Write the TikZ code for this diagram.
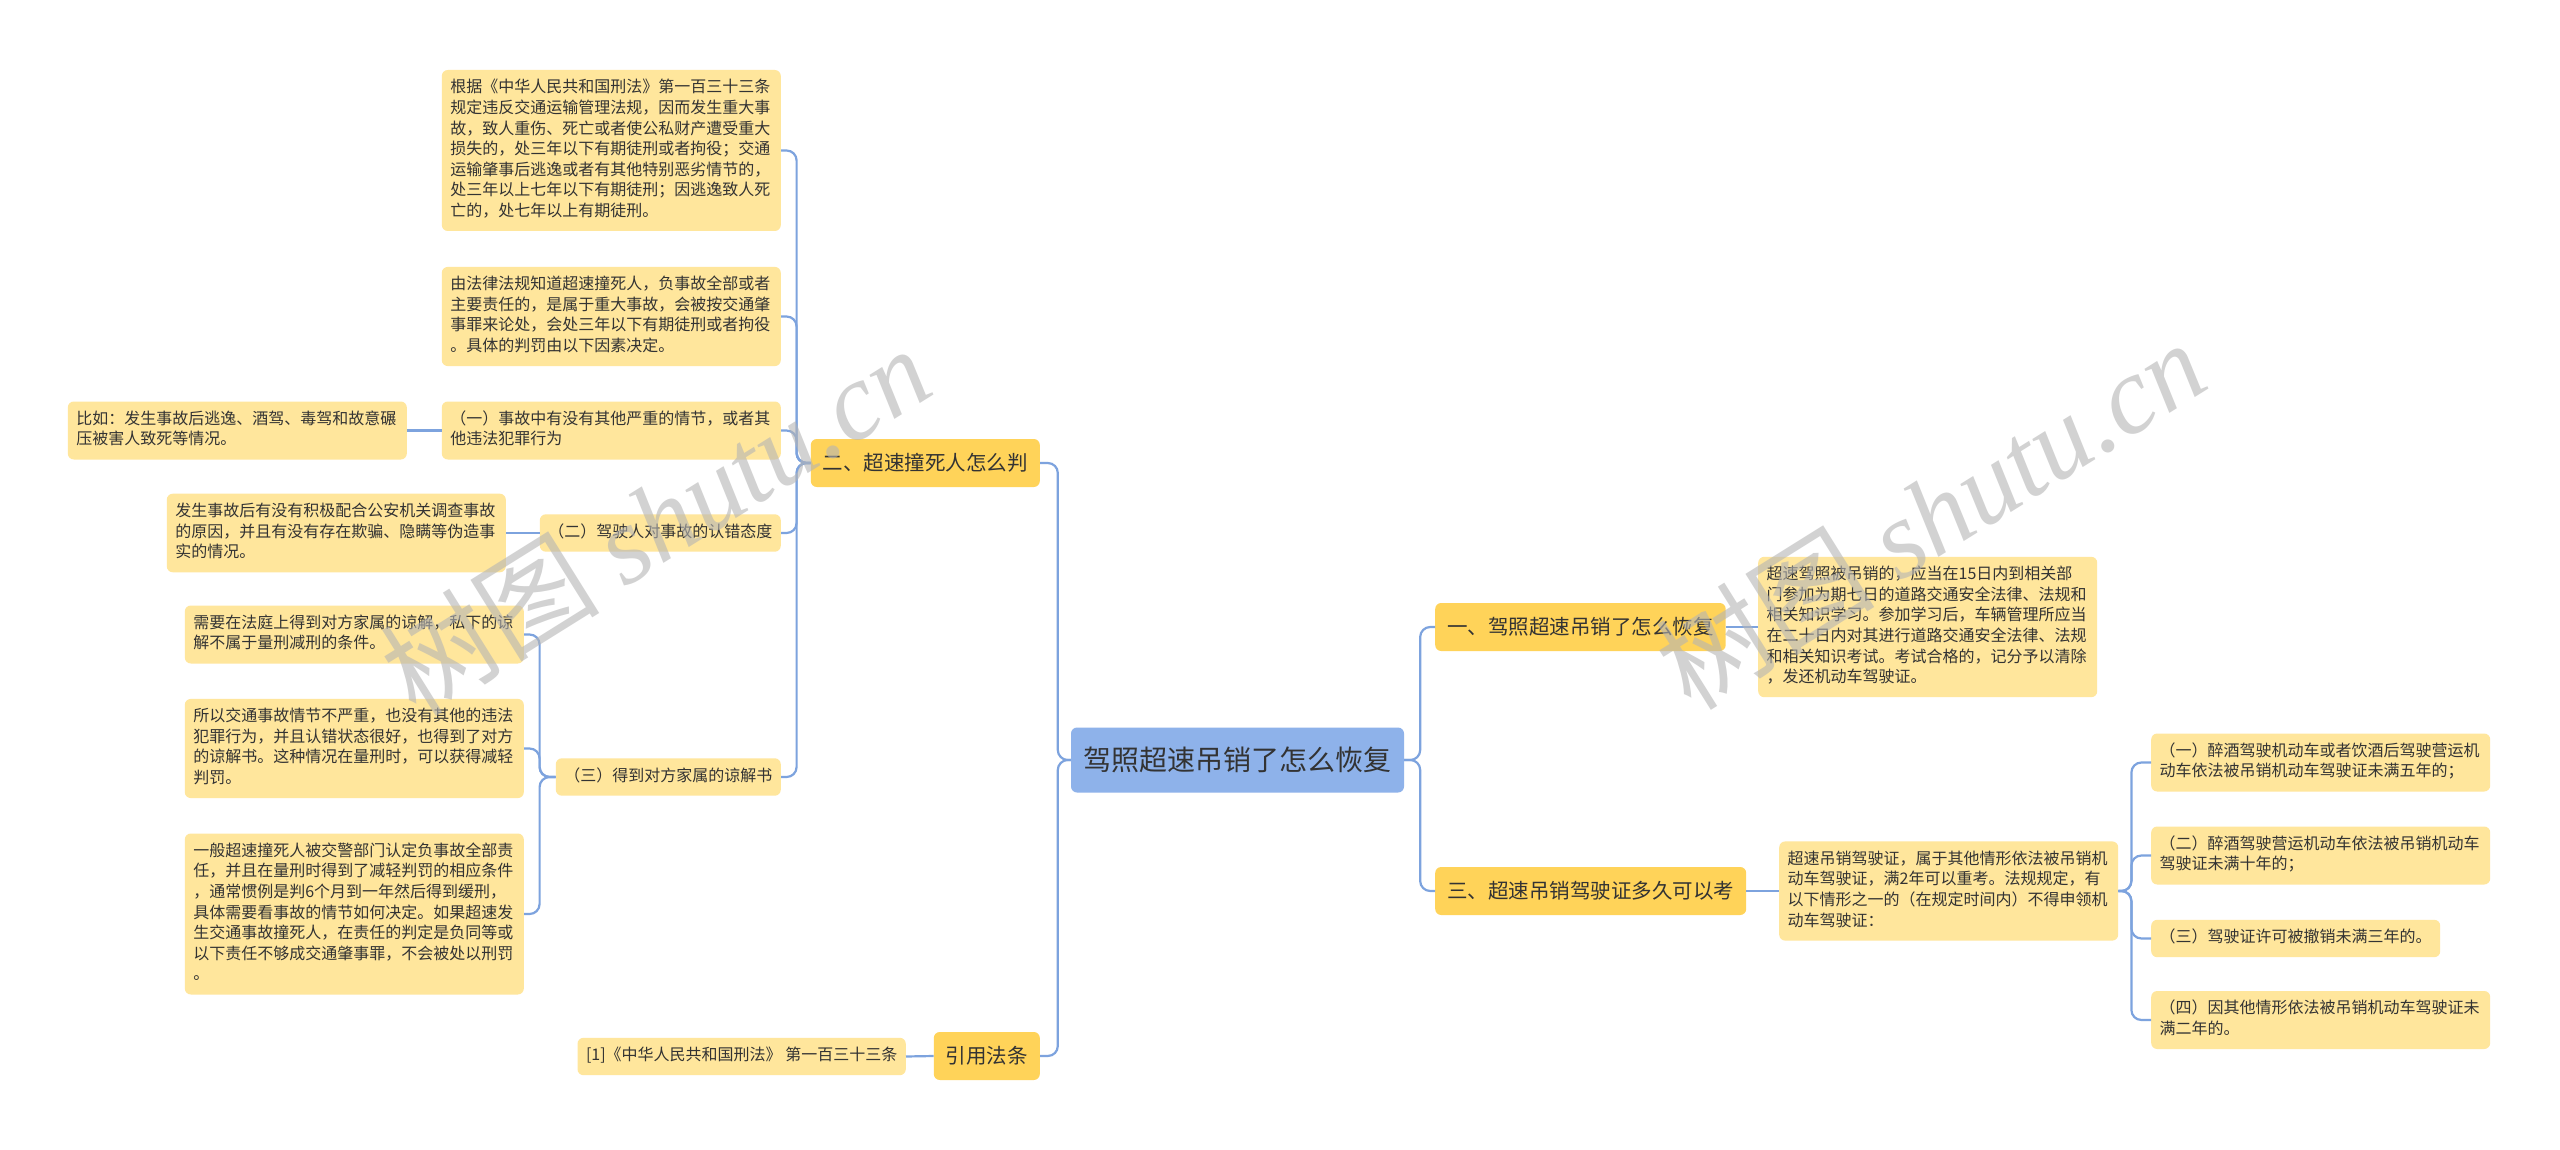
\documentclass[tikz,border=0pt]{standalone}
\usepackage{fontspec}
\setmainfont{Noto Sans CJK SC}
\newfontfamily\wmfont{Liberation Serif}
\definecolor{rootc}{HTML}{8EB2EA}
\definecolor{branchc}{HTML}{FFD359}
\definecolor{leafc}{HTML}{FFE69C}
\definecolor{linec}{HTML}{7DA3DE}
\definecolor{txt}{HTML}{333333}
\definecolor{wmc}{HTML}{B4B4B4}
\tikzset{
  base/.style={rounded corners=6pt, text=txt},
  rootnode/.style={base, fill=rootc, inner xsep=12.5pt, inner ysep=0pt, minimum height=65pt, font=\fontsize{28}{34}\selectfont},
  branch/.style={base, fill=branchc, inner xsep=12pt, inner ysep=0pt, minimum height=48pt, font=\fontsize{20.5}{25}\selectfont},
  leaf/.style={base, fill=leafc, inner xsep=8.5pt, inner ysep=8.4pt, align=left, font=\fontsize{16}{20.6}\selectfont, execute at begin node=\strut, execute at end node=\strut},
  wide/.style={text width=322pt},
  conn/.style={draw=linec, line width=2.2pt, rounded corners=10pt},
  wmark/.style={text=wmc, opacity=0.6, rotate=32, font=\fontsize{110}{120}\selectfont}
}
\begin{document}
\begin{tikzpicture}[x=1pt,y=-1pt]
\fill[white] (0,0) rectangle (2560,1150);
\useasboundingbox (0,0) rectangle (2560,1150);

% root
\node[rootnode] (root) at (1237.5,760) {驾照超速吊销了怎么恢复};

% left branches
\node[branch, anchor=east] (b2) at (1040,463) {二、超速撞死人怎么判};
\node[branch, anchor=east] (bc) at (1040,1056) {引用法条};

% right branches
\node[branch, anchor=west] (b1) at (1435,627) {一、驾照超速吊销了怎么恢复};
\node[branch, anchor=west] (b3) at (1435,891) {三、超速吊销驾驶证多久可以考};

% children of b2
\node[leaf, wide, anchor=east] (la) at (781,150.5) {根据《中华人民共和国刑法》第一百三十三条\\规定违反交通运输管理法规，因而发生重大事\\故，致人重伤、死亡或者使公私财产遭受重大\\损失的，处三年以下有期徒刑或者拘役；交通\\运输肇事后逃逸或者有其他特别恶劣情节的，\\处三年以上七年以下有期徒刑；因逃逸致人死\\亡的，处七年以上有期徒刑。};
\node[leaf, wide, anchor=east] (lb) at (781,316.5) {由法律法规知道超速撞死人，负事故全部或者\\主要责任的，是属于重大事故，会被按交通肇\\事罪来论处，会处三年以下有期徒刑或者拘役\\。具体的判罚由以下因素决定。};
\node[leaf, wide, anchor=east] (lc) at (781,430.5) {（一）事故中有没有其他严重的情节，或者其\\他违法犯罪行为};
\node[leaf, wide, anchor=east] (lc1) at (407,430.5) {比如：发生事故后逃逸、酒驾、毒驾和故意碾\\压被害人致死等情况。};
\node[leaf, anchor=east] (ld) at (781,533) {（二）驾驶人对事故的认错态度};
\node[leaf, wide, anchor=east] (ld1) at (506,533) {发生事故后有没有积极配合公安机关调查事故\\的原因，并且有没有存在欺骗、隐瞒等伪造事\\实的情况。};
\node[leaf, anchor=east] (le) at (781,777) {（三）得到对方家属的谅解书};
\node[leaf, wide, anchor=east] (le1) at (524,634.5) {需要在法庭上得到对方家属的谅解，私下的谅\\解不属于量刑减刑的条件。};
\node[leaf, wide, anchor=east] (le2) at (524,748.5) {所以交通事故情节不严重，也没有其他的违法\\犯罪行为，并且认错状态很好，也得到了对方\\的谅解书。这种情况在量刑时，可以获得减轻\\判罚。};
\node[leaf, wide, anchor=east] (le3) at (524,914) {一般超速撞死人被交警部门认定负事故全部责\\任，并且在量刑时得到了减轻判罚的相应条件\\，通常惯例是判6个月到一年然后得到缓刑，\\具体需要看事故的情节如何决定。如果超速发\\生交通事故撞死人，在责任的判定是负同等或\\以下责任不够成交通肇事罪，不会被处以刑罚\\。};

% child of citation
\node[leaf, anchor=east] (lcite) at (906,1056.5) {[1]《中华人民共和国刑法》 第一百三十三条};

% right side leaves
\node[leaf, wide, anchor=west] (r1) at (1758,627) {超速驾照被吊销的，应当在15日内到相关部\\门参加为期七日的道路交通安全法律、法规和\\相关知识学习。参加学习后，车辆管理所应当\\在二十日内对其进行道路交通安全法律、法规\\和相关知识考试。考试合格的，记分予以清除\\，发还机动车驾驶证。};
\node[leaf, wide, anchor=west] (r3) at (1779,891) {超速吊销驾驶证，属于其他情形依法被吊销机\\动车驾驶证，满2年可以重考。法规规定，有\\以下情形之一的（在规定时间内）不得申领机\\动车驾驶证：};
\node[leaf, wide, anchor=west] (g1) at (2151,762.5) {（一）醉酒驾驶机动车或者饮酒后驾驶营运机\\动车依法被吊销机动车驾驶证未满五年的；};
\node[leaf, wide, anchor=west] (g2) at (2151,855.5) {（二）醉酒驾驶营运机动车依法被吊销机动车\\驾驶证未满十年的；};
\node[leaf, anchor=west] (g3) at (2151,938.5) {（三）驾驶证许可被撤销未满三年的。};
\node[leaf, wide, anchor=west] (g4) at (2151,1020) {（四）因其他情形依法被吊销机动车驾驶证未\\满二年的。};

% connectors: root
\draw[conn] (root.west) -- ++(-13,0) |- (b2.east);
\draw[conn] (root.west) -- ++(-13,0) |- (bc.east);
\draw[conn] (root.east) -- ++(16,0) |- (b1.west);
\draw[conn] (root.east) -- ++(16,0) |- (b3.west);

% b2 children
\draw[conn] (b2.west) -- ++(-14,0) |- (la.east);
\draw[conn] (b2.west) -- ++(-14,0) |- (lb.east);
\draw[conn] (b2.west) -- ++(-14,0) |- (lc.east);
\draw[conn] (b2.west) -- ++(-14,0) |- (ld.east);
\draw[conn] (b2.west) -- ++(-14,0) |- (le.east);
\draw[conn] (lc.west) -- (lc1.east);
\draw[conn] (ld.west) -- (ld1.east);
\draw[conn] (le.west) -- ++(-16,0) |- (le1.east);
\draw[conn] (le.west) -- ++(-16,0) |- (le2.east);
\draw[conn] (le.west) -- ++(-16,0) |- (le3.east);
\draw[conn] (bc.west) -- (lcite.east);

% right connectors
\draw[conn] (b1.east) -- (r1.west);
\draw[conn] (b3.east) -- (r3.west);
\draw[conn] (r3.east) -- ++(13,0) |- (g1.west);
\draw[conn] (r3.east) -- ++(13,0) |- (g2.west);
\draw[conn] (r3.east) -- ++(13,0) |- (g3.west);
\draw[conn] (r3.east) -- ++(13,0) |- (g4.west);

% watermarks
\node[wmark] (wm1) at (655,520) {树图 {\wmfont\itshape shutu.cn}};
\node[wmark] (wm2) at (1930,514) {树图 {\wmfont\itshape shutu.cn}};
\end{tikzpicture}
\end{document}
